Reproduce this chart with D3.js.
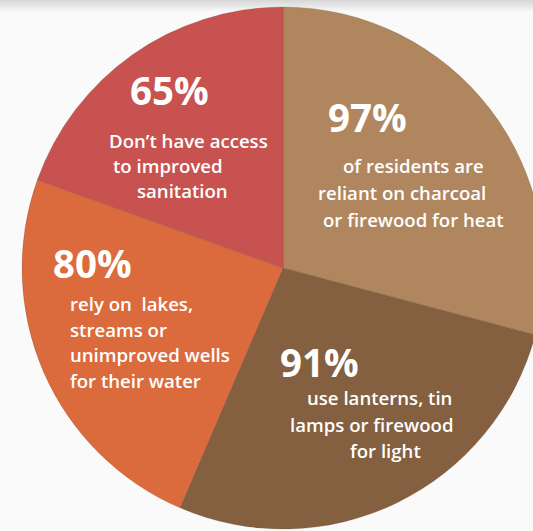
<!DOCTYPE html>
<html>
<head>
<meta charset="utf-8">
<script src="https://cdn.jsdelivr.net/npm/d3@7"></script>
<style>
  html, body { margin: 0; padding: 0; background: #fafafa; }
  svg { display: block; }
</style>
</head>
<body>
<div id="chart"></div>
<script>
// Household access figures, drawn as a pie sized by the headline percentages
const values = [97, 91, 80, 65];
const percentLabels = ['97%', '91%', '80%', '65%'];
const descriptions = [
  ['of residents are', 'reliant on charcoal', 'or firewood for heat'],
  ['use lanterns, tin', 'lamps or firewood', 'for light'],
  ['rely on  lakes,', 'streams or', 'unimproved wells', 'for their water'],
  ['Don\u2019t have access', 'to improved', 'sanitation']
];
const colors = ['#b0865f', '#845f40', '#db6a3d', '#c8524f'];

// label placement relative to the pie centre (number x/y, line x offsets, first line y, line gap)
const labelLayout = [
  { nx: 45, ny: -136, lines: [60, 35, 40], ly: -95, gap: 27 },
  { nx: -3, ny: 109, lines: [24, 7, 67], ly: 137, gap: 26.5 },
  { nx: -230, ny: 10, lines: [-213, -213, -213, -213], ly: 43, gap: 25.5 },
  { nx: -153, ny: -163, lines: [-174, -170, -146], ly: -120, gap: 25 }
];

(function() {
  'use strict';

  const width = 533;
  const height = 531;
  const cx = 283;
  const cy = 268;
  const radius = 261;

  const svg = d3.select('#chart')
    .append('svg')
    .attr('width', width)
    .attr('height', height)
    .attr('viewBox', [0, 0, width, height]);

  // faint grey paper band along the top edge
  const defs = svg.append('defs');
  const grad = defs.append('linearGradient')
    .attr('id', 'topband')
    .attr('x1', 0).attr('y1', 0).attr('x2', 0).attr('y2', 1);
  grad.append('stop').attr('offset', '0%').attr('stop-color', '#d6d6d6');
  grad.append('stop').attr('offset', '100%').attr('stop-color', '#fafafa');

  svg.append('rect')
    .attr('width', width)
    .attr('height', 12)
    .attr('fill', 'url(#topband)');

  const pie = d3.pie().sort(null).value(d => d).startAngle(0).endAngle(2 * Math.PI);
  const arc = d3.arc().innerRadius(0).outerRadius(radius);
  const arcs = pie(values);

  const g = svg.append('g').attr('transform', `translate(${cx},${cy})`);

  g.selectAll('path')
    .data(arcs)
    .join('path')
    .attr('d', arc)
    .attr('fill', (d, i) => colors[i])
    .attr('stroke', 'rgba(90,60,40,0.25)')
    .attr('stroke-width', 0.8);

  // Labels
  const labels = g.selectAll('g.label')
    .data(arcs)
    .join('g')
    .attr('class', 'label');

  labels.append('text')
    .attr('x', (d, i) => labelLayout[i].nx)
    .attr('y', (d, i) => labelLayout[i].ny)
    .attr('font-family', '"Open Sans", sans-serif')
    .attr('font-weight', 700)
    .attr('font-size', '38.5px')
    .attr('fill', '#fff')
    .text((d, i) => percentLabels[i]);

  labels.each(function(d, i) {
    const lay = labelLayout[i];
    d3.select(this).selectAll('text.desc')
      .data(descriptions[i])
      .join('text')
      .attr('class', 'desc')
      .attr('x', (t, j) => lay.lines[j])
      .attr('y', (t, j) => lay.ly + j * lay.gap)
      .attr('font-family', '"Open Sans", sans-serif')
      .attr('font-weight', 600)
      .attr('font-size', '18.6px')
      .attr('fill', '#fff')
      .attr('xml:space', 'preserve')
      .style('white-space', 'pre')
      .text(t => t);
  });
})();
</script>
</body>
</html>
